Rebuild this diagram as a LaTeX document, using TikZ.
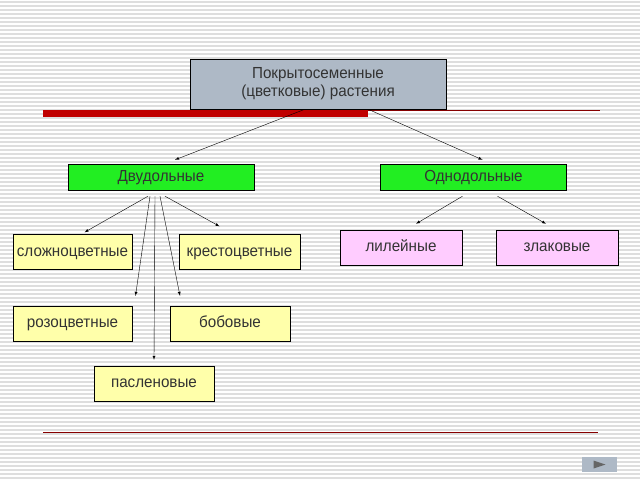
\documentclass[tikz,border=0pt]{standalone}
\usepackage{fontspec}
\setmainfont{Liberation Sans}[FakeStretch=0.95]
\usetikzlibrary{positioning}
\definecolor{topgray}{HTML}{AEB9C6}
\definecolor{leafgreen}{HTML}{22EE22}
\definecolor{paleyellow}{HTML}{FFFFAA}
\definecolor{palepink}{HTML}{FFCCFF}
\definecolor{barred}{HTML}{C00000}
\definecolor{stripe}{HTML}{DEDEDE}
\tikzset{
    every node/.style = {font=\fontsize{16}{18}\selectfont, text=black!80, inner sep=0pt,
        text height=11pt, text depth=3pt},
    topbox/.style = {draw, fill=topgray, minimum width=256pt, minimum height=50pt, align=center},
    classbox/.style = {draw, fill=leafgreen, minimum width=186pt, minimum height=26pt},
    familybox/.style = {draw, fill=paleyellow, minimum width=119pt, minimum height=35pt},
    monobox/.style = {draw, fill=palepink, minimum width=122pt, minimum height=35pt},
    link/.style = {-latex, thin}
}

\begin{document}
\begin{tikzpicture}[x=1pt, y=-1pt]
        \useasboundingbox (0,0) rectangle (640,480);
        \fill[white] (0,0) rectangle (640,480);
        \foreach \y in {2,6,...,478}
            \draw[stripe, line width=1.2pt] (0,\y) -- (640,\y);

        \fill[barred] (43,110) rectangle (368,117);
        \draw[barred!70!black, thin] (368,110) -- (600,110);
        \draw[barred!70!black, thin] (43,432) -- (598,432);

        \node[topbox, text height=, text depth=] (top) at (318,84) {Покрытосеменные\\(цветковые) растения};

        \node[classbox] (dicot) at (161,177) {Двудольные};
        \node[classbox] (monocot) at (473.5,177) {Однодольные};

        \node[familybox] (compositae) at (72.5,252) {сложноцветные};
        \node[familybox, minimum width=121pt] (cruciferae) at (239.5,252) {крестоцветные};
        \node[familybox] (rosaceae) at (72.5,323.5) {розоцветные};
        \node[familybox, minimum width=120pt] (legumes) at (230,323.5) {бобовые};
        \node[familybox, minimum width=120pt] (nightshade) at (154,383.5) {пасленовые};

        \node[monobox] (lily) at (401,247.5) {лилейные};
        \node[monobox] (grass) at (557,247.5) {злаковые};

        \draw[link] ([xshift=-13pt]top.south) -- ([xshift=14pt,yshift=4pt]dicot.north);
        \draw[link] ([xshift=50pt]top.south) -- ([xshift=9pt,yshift=4pt]monocot.north);

        \draw[link] ([xshift=-13pt,yshift=-6pt]dicot.south) -- ([xshift=12pt,yshift=2pt]compositae.north);
        \draw[link] ([xshift=-11pt,yshift=-6pt]dicot.south) -- ([xshift=63pt,yshift=10pt]rosaceae.north);
        \draw[link] ([xshift=-6pt,yshift=-6pt]dicot.south) -- ([yshift=6pt]nightshade.north);
        \draw[link] ([xshift=-1pt,yshift=-6pt]dicot.south) -- ([xshift=-50pt,yshift=10pt]legumes.north);
        \draw[link] ([xshift=4pt,yshift=-6pt]dicot.south) -- ([xshift=-20pt,yshift=8pt]cruciferae.north);

        \draw[link] ([xshift=-11pt,yshift=-6pt]monocot.south) -- ([xshift=15pt,yshift=6pt]lily.north);
        \draw[link] ([xshift=24pt,yshift=-6pt]monocot.south) -- ([xshift=-11pt,yshift=6pt]grass.north);

        \node[fill=topgray, minimum width=35pt, minimum height=15pt, text height=, text depth=] (next) at (599.5,464.5) {};
        \fill[black!60] ([xshift=-6pt,yshift=4pt]next.center) -- ([xshift=-6pt,yshift=-4pt]next.center) -- ([xshift=6pt]next.center) -- cycle;
\end{tikzpicture}
\end{document}
